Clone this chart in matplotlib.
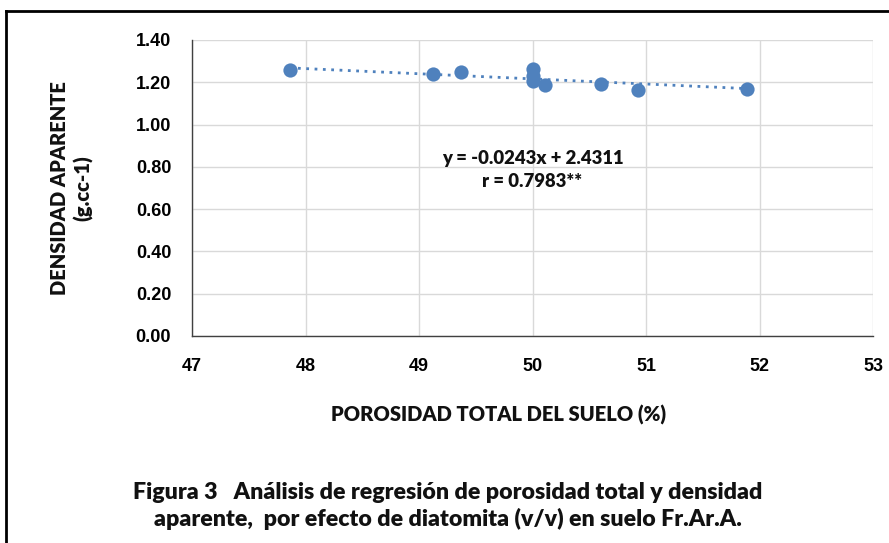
import matplotlib
matplotlib.use("Agg")
import matplotlib.pyplot as plt
from matplotlib.lines import Line2D
import numpy as np

porosidad = [47.86, 49.12, 49.37, 50.0, 50.0, 50.0, 50.11, 50.6, 50.93, 51.89]
densidad = [1.258, 1.239, 1.249, 1.262, 1.23, 1.205, 1.187, 1.19, 1.164, 1.168]
slope, intercept = -0.0243, 2.4311
eq_text = "y = -0.0243x + 2.4311\nr = 0.7983**"
x_ticks = [47, 48, 49, 50, 51, 52, 53]
y_ticks = [0.0, 0.2, 0.4, 0.6, 0.8, 1.0, 1.2, 1.4]
xlabel = "POROSIDAD TOTAL DEL SUELO (%)"
ylabel = "DENSIDAD APARENTE\n(g.cc-1)"
caption = ("Figura 3   Análisis de regresión de porosidad total y densidad\n"
           "aparente,  por efecto de diatomita (v/v) en suelo Fr.Ar.A.")

W, H = 889, 543
fig = plt.figure(figsize=(W / 100, H / 100), dpi=100)
ax = fig.add_axes([192 / W, 1 - 336 / H, (873 - 192) / W, (336 - 40) / H])

color = "#4F81BD"
ax.scatter(porosidad, densidad, s=105, color=color, zorder=3, linewidths=0)
xs = np.array([min(porosidad), max(porosidad)])
ax.plot(xs, slope * xs + intercept, linestyle=(0, (1, 2)), color=color, lw=2, zorder=2)

ax.set_xlim(47, 53)
ax.set_ylim(0, 1.4)
ax.set_xticks(x_ticks)
ax.set_yticks(y_ticks)
ax.set_xticklabels([str(t) for t in x_ticks])
ax.set_yticklabels([f"{t:.2f}" for t in y_ticks])
ax.grid(True, color="#d9d9d9", lw=1)
ax.set_axisbelow(True)
for s in ["top", "right"]:
    ax.spines[s].set_visible(False)
for s in ["left", "bottom"]:
    ax.spines[s].set_color("#404040")
    ax.spines[s].set_linewidth(1)
ax.tick_params(length=0, labelsize=13)
for lab in ax.get_xticklabels() + ax.get_yticklabels():
    lab.set_fontweight("bold")
    lab.set_fontfamily("Liberation Sans")
ax.tick_params(axis="x", pad=16)
ax.tick_params(axis="y", pad=15)

txt_kw = dict(fontweight="heavy", fontfamily="Lato", color="#111111")

ax.text(50.0, 0.785, eq_text, ha="center", va="center", fontsize=13.3,
        linespacing=1.45, **txt_kw)

fig.text(499 / W, 1 - 415 / H, xlabel, ha="center", va="center", fontsize=14.5, **txt_kw)
fig.text(72 / W, 1 - 188 / H, ylabel, ha="center", va="center", rotation=90,
         fontsize=14.5, linespacing=1.25, **txt_kw)
fig.text(448 / W, 1 - 506 / H, caption, ha="center", va="center", fontsize=16.7,
         linespacing=1.3, **txt_kw)

# frame lines (top and left)
fig.add_artist(Line2D([6 / W, 1.0], [1 - 11 / H, 1 - 11 / H], color="black", lw=2))
fig.add_artist(Line2D([6 / W, 6 / W], [0, 1 - 11 / H], color="black", lw=2))

fig.savefig("out.png", dpi=100)
